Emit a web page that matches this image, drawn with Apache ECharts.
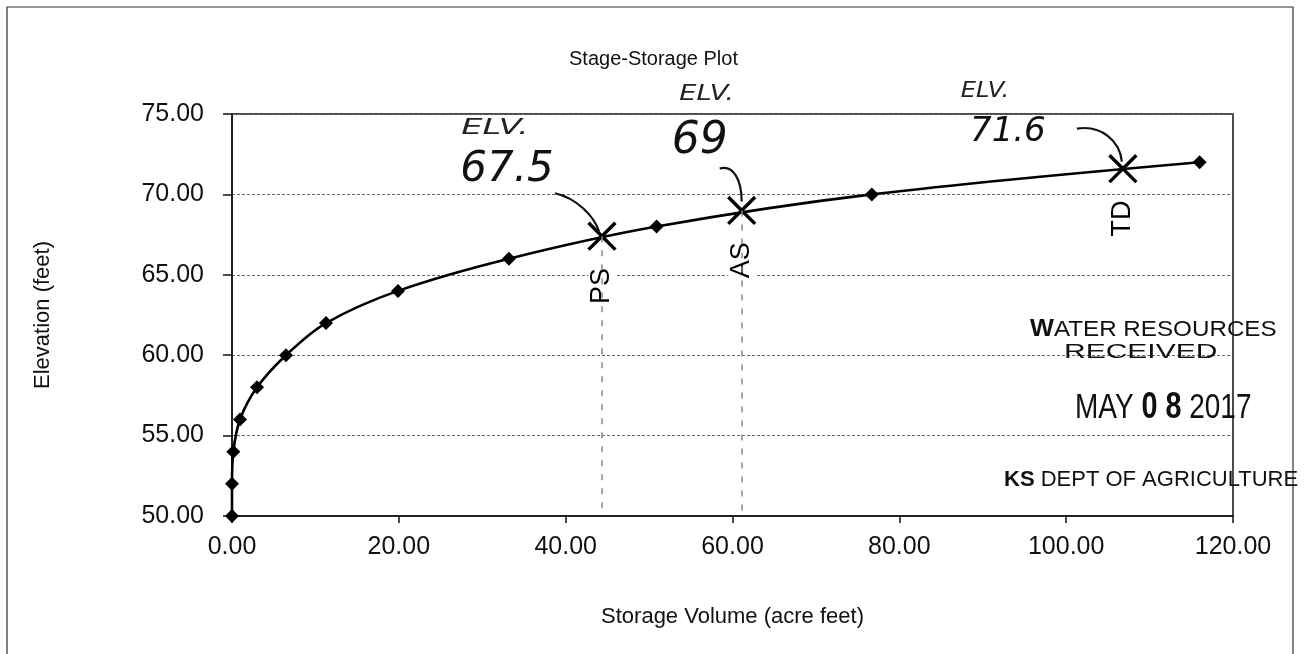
<!DOCTYPE html>
<html>
<head>
<meta charset="utf-8">
<script src="https://cdn.jsdelivr.net/npm/echarts@6/dist/echarts.min.js"></script>
<style>
html,body{margin:0;padding:0;background:#fff;}
#chart{width:1307px;height:654px;}
</style>
</head>
<body>
<div id="chart"></div>
<script>
// ---- data ----
const storage   = [0, 0, 0.16, 0.96, 3.0, 6.47, 11.27, 19.9, 33.2, 50.9, 76.7, 116.0];
const elevation = [50, 52, 54, 56, 58, 60, 62, 64, 66, 68, 70, 72];
const markNames     = ['PS', 'AS', 'TD'];
const markStorage   = [44.35, 61.1, 106.8];
const markElevation = [67.4, 69.0, 71.6];
const noteValues    = ['67.5', '69', '71.6'];
const yTicks = [50, 55, 60, 65, 70, 75];
const xTicks = [0, 20, 40, 60, 80, 100, 120];

const FONT = '"Liberation Sans", Arial, sans-serif';
const HAND = '"DejaVu Sans", sans-serif';

const curve = storage.map((s, i) => [s, elevation[i]]);
const marks = markStorage.map((s, i) => ({ value: [s, markElevation[i]], name: markNames[i] }));
const dropLines = markStorage.slice(0, 2).map((s, i) => [
  { coord: [s, markElevation[i]] },
  { coord: [s, yTicks[0]] }
]);

const chart = echarts.init(document.getElementById('chart'), null, { renderer: 'canvas' });

const option = {
  backgroundColor: '#fff',
  animation: false,
  title: {
    text: 'Stage-Storage Plot',
    left: 'center',
    top: 44,
    textStyle: { fontFamily: FONT, fontSize: 20, fontWeight: 'normal', color: '#111' }
  },
  grid: {
    left: 232, right: 74, top: 114, bottom: 138,
    show: true, borderColor: '#111', borderWidth: 1.5, backgroundColor: 'transparent'
  },
  xAxis: {
    type: 'value',
    min: xTicks[0], max: xTicks[xTicks.length - 1], interval: 20,
    name: 'Storage Volume (acre feet)',
    nameLocation: 'middle', nameGap: 90,
    nameTextStyle: { fontFamily: FONT, fontSize: 22, color: '#111' },
    axisLine: { show: true, lineStyle: { color: '#111', width: 1.5 } },
    axisTick: { show: true, inside: false, length: 7, lineStyle: { color: '#111', width: 1.5 } },
    axisLabel: { fontFamily: FONT, fontSize: 25, color: '#111', margin: 19,
                 formatter: v => v.toFixed(2) },
    splitLine: { show: false }
  },
  yAxis: {
    type: 'value',
    min: yTicks[0], max: yTicks[yTicks.length - 1], interval: 5,
    name: 'Elevation (feet)',
    nameLocation: 'middle', nameGap: 178, nameRotate: 90,
    nameTextStyle: { fontFamily: FONT, fontSize: 22, color: '#111' },
    axisLine: { show: true, lineStyle: { color: '#111', width: 1.5 } },
    axisTick: { show: true, inside: false, length: 9, lineStyle: { color: '#111', width: 1.5 } },
    axisLabel: { fontFamily: FONT, fontSize: 25, color: '#111', margin: 28,
                 formatter: v => v.toFixed(2) },
    splitLine: { show: true, lineStyle: { color: '#666', width: 1, type: [3, 2] } }
  },
  series: [
    {
      type: 'line',
      data: curve,
      smooth: 0.35,
      symbol: 'diamond',
      symbolSize: 14,
      lineStyle: { color: '#000', width: 2.6 },
      itemStyle: { color: '#000' },
      z: 3
    },
    {
      type: 'scatter',
      data: marks,
      symbol: 'path://M4.55,0H5.45V4.55H10V5.45H5.45V10H4.55V5.45H0V4.55H4.55Z',
      symbolRotate: 45,
      symbolSize: 38,
      itemStyle: { color: '#000', opacity: 1 },
      label: {
        show: true,
        formatter: p => p.name,
        position: 'bottom',
        distance: 3,
        rotate: 90,
        align: 'right',
        verticalAlign: 'middle',
        fontFamily: FONT,
        fontSize: 27,
        color: '#000',
        opacity: 1,
        backgroundColor: '#fff',
        padding: [0, 2]
      },
      markLine: {
        silent: true,
        symbol: ['none', 'none'],
        label: { show: false },
        lineStyle: { color: '#888', width: 1.5, type: [6, 8], opacity: 1 },
        data: dropLines
      },
      z: 4
    }
  ]
};
chart.setOption(option);

// ---- handwritten notes anchored on the marked points ----
const px = markStorage.map((s, i) => chart.convertToPixel({ gridIndex: 0 }, [s, markElevation[i]]));
const noteLayout = [
  { elv: [-107, -108], elvScale: 1.6, num: [-95, -66], numSize: 42, arc: [[-47, -43], [-25, -38], [-8, -20], [-3, -5]] },
  { elv: [-35, -116], elvScale: 1.3, num: [-42, -69], numSize: 44, arc: [[-22, -42], [-8, -46], [0, -30], [0, -9]] },
  { elv: [-138, -77], elvScale: 1.15, num: [-115, -37], numSize: 34, arc: [[-46, -40], [-22, -44], [-3, -28], [-1, -7]] }
];
const graphics = [];
noteLayout.forEach((n, i) => {
  const [cx, cy] = px[i];
  graphics.push({
    type: 'text', x: cx + n.elv[0], y: cy + n.elv[1], scaleX: n.elvScale,
    style: { text: 'ELV.', font: 'italic 21px ' + HAND, fill: '#222', align: 'center', verticalAlign: 'middle' }
  });
  graphics.push({
    type: 'text', x: cx + n.num[0], y: cy + n.num[1],
    style: { text: noteValues[i], font: 'italic ' + n.numSize + 'px ' + HAND, fill: '#111', align: 'center', verticalAlign: 'middle' }
  });
  const a = n.arc;
  graphics.push({
    type: 'bezierCurve',
    shape: { x1: cx + a[0][0], y1: cy + a[0][1], cpx1: cx + a[1][0], cpy1: cy + a[1][1],
             cpx2: cx + a[2][0], cpy2: cy + a[2][1], x2: cx + a[3][0], y2: cy + a[3][1] },
    style: { stroke: '#111', lineWidth: 2.2, fill: 'none' }
  });
});

// ---- outer frame ----
graphics.push({
  type: 'rect', shape: { x: 7, y: 7, width: 1286, height: 700 },
  style: { stroke: '#333', lineWidth: 1.2, fill: 'none' }, z: 0
});

// ---- received stamp ----
graphics.push({
  type: 'text', x: 1030, y: 330, scaleX: 1.1,
  style: { text: '{b|W}ATER RESOURCES', font: '22px ' + FONT, fill: '#111', verticalAlign: 'middle',
           rich: { b: { fontWeight: 'bold', fontSize: 23, fontFamily: FONT } } }
});
graphics.push({
  type: 'text', x: 1064, y: 352, scaleX: 1.5,
  style: { text: 'RECEIVED', font: '20px ' + FONT, fill: '#111', verticalAlign: 'middle' }
});
graphics.push({
  type: 'text', x: 1075, y: 408, scaleX: 0.8,
  style: { text: 'MAY {b|0 8} 2017', font: '35px ' + FONT, fill: '#111', verticalAlign: 'middle',
           rich: { b: { fontWeight: 'bold', fontSize: 36, fontFamily: FONT } } }
});
graphics.push({
  type: 'text', x: 1004, y: 480,
  style: { text: '{b|KS} DEPT OF AGRICULTURE', font: '22px ' + FONT, fill: '#111', verticalAlign: 'middle',
           rich: { b: { fontWeight: 'bold', fontSize: 22, fontFamily: FONT } } }
});

chart.setOption({ graphic: graphics });
</script>
</body>
</html>
